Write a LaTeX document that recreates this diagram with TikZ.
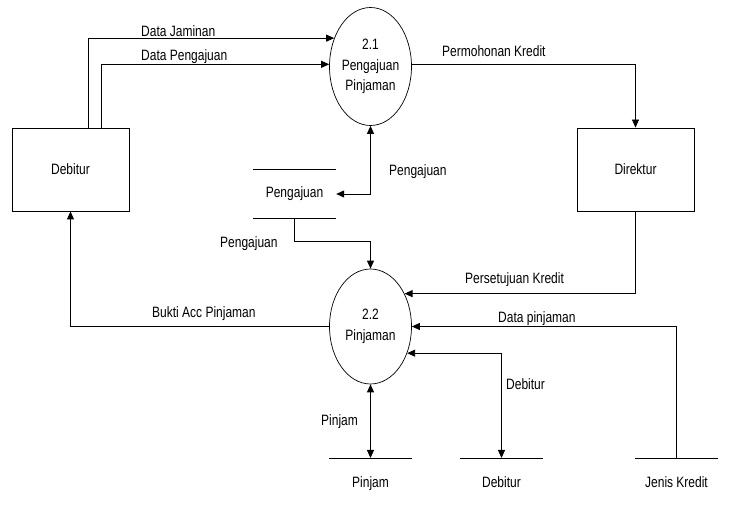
\documentclass[tikz,border=0pt]{standalone}
\usepackage{fontspec}
\setmainfont{Liberation Sans}[FakeStretch=0.8]
\usetikzlibrary{arrows.meta,shapes.geometric}

\begin{document}
\begin{tikzpicture}[
  x=1pt, y=-1pt,
  edge/.style={line width=0.9pt},
  lbl/.style={font=\fontsize{15}{20.5}\selectfont},
  tag/.style={lbl, inner sep=0pt, anchor=base west},
  flow/.style={edge, -{Triangle[length=8pt,width=7pt]}},
  flowboth/.style={edge, {Triangle[length=8pt,width=7pt]}-{Triangle[length=8pt,width=7pt]}},
  proc/.style={lbl, ellipse, draw, line width=0.7pt, minimum width=82pt,
               minimum height=118pt, inner sep=0pt, align=center},
  ent/.style={lbl, rectangle, draw, line width=0.9pt, minimum width=117pt,
              minimum height=83pt},
  storebox/.style={lbl, minimum width=83pt, minimum height=48pt, inner sep=0pt},
  storeline/.style={minimum width=83pt, minimum height=0pt, inner sep=0pt, outer sep=0pt},
]
\useasboundingbox (0,0) rectangle (732,505);

% ── processes ─────────────────────────────────────────────────────────────
\node[proc] (p21) at (370.5,66.5) {2.1\\Pengajuan\\Pinjaman};
\node[proc, minimum height=115pt] (p22) at (370.5,326.5) {2.2\\Pinjaman};

% ── external entities ─────────────────────────────────────────────────────
\node[ent] (deb) at (70.5,169.5) {Debitur};
\node[ent] (dir) at (635.5,169.5) {Direktur};

% ── data stores ───────────────────────────────────────────────────────────
\node[storebox] (sPengajuan) at (294.5,194) {Pengajuan};
\draw[edge] (sPengajuan.north west) -- (sPengajuan.north east);
\draw[edge] (sPengajuan.south west) -- (sPengajuan.south east);

\node[storeline] (sPinjam) at (370.5,458) {};
\node[storeline] (sDebitur) at (501.5,458) {};
\node[storeline] (sJenis) at (676.5,458) {};
\foreach \s in {sPinjam,sDebitur,sJenis}
  \draw[edge] (\s.west) -- (\s.east);

\node[lbl, anchor=base] (nPinjam) at (370.5,487) {Pinjam};
\node[lbl, anchor=base] (nDebitur) at (501.5,487) {Debitur};
\node[lbl, anchor=base] (nJenis) at (676.5,487) {Jenis Kredit};

% ── flows into and out of 2.1 ─────────────────────────────────────────────
\draw[flow] ([xshift=17.5pt]deb.north) |- (p21.142);
\draw[flow] ([xshift=30.5pt]deb.north) |- (p21.177);
\draw[flow] (p21.3) -| (dir.north);
\draw[flowboth] (p21.south) |- (sPengajuan.east);

\node[tag] (tJaminan) at (141,36.5) {Data Jaminan};
\node[tag] (tAju) at (141,61) {Data Pengajuan};
\node[tag] (tMohon) at (442,56.5) {Permohonan Kredit};
\node[tag] (tAjuKanan) at (389,175.5) {Pengajuan};

% ── flows into and out of 2.2 ─────────────────────────────────────────────
\draw[flow] (sPengajuan.south) -- ++(0,23) -| (p22.north);
\draw[flow] (p22.west) -| (deb.south);
\draw[flow] (dir.south) |- (p22.44);
\draw[flow] (sJenis.center) |- (p22.east);
\draw[flowboth] (p22.324) -| (sDebitur.center);
\draw[flowboth] (p22.south) -- (sPinjam.center);

\node[tag] (tAjuKiri) at (220,248) {Pengajuan};
\node[tag] (tBukti) at (152,318) {Bukti Acc Pinjaman};
\node[tag] (tSetuju) at (465,284) {Persetujuan Kredit};
\node[tag] (tDataPinjam) at (498,323) {Data pinjaman};
\node[tag] (tDebitur) at (506,390) {Debitur};
\node[tag] (tPinjam) at (321,425) {Pinjam};

\end{tikzpicture}
\end{document}
